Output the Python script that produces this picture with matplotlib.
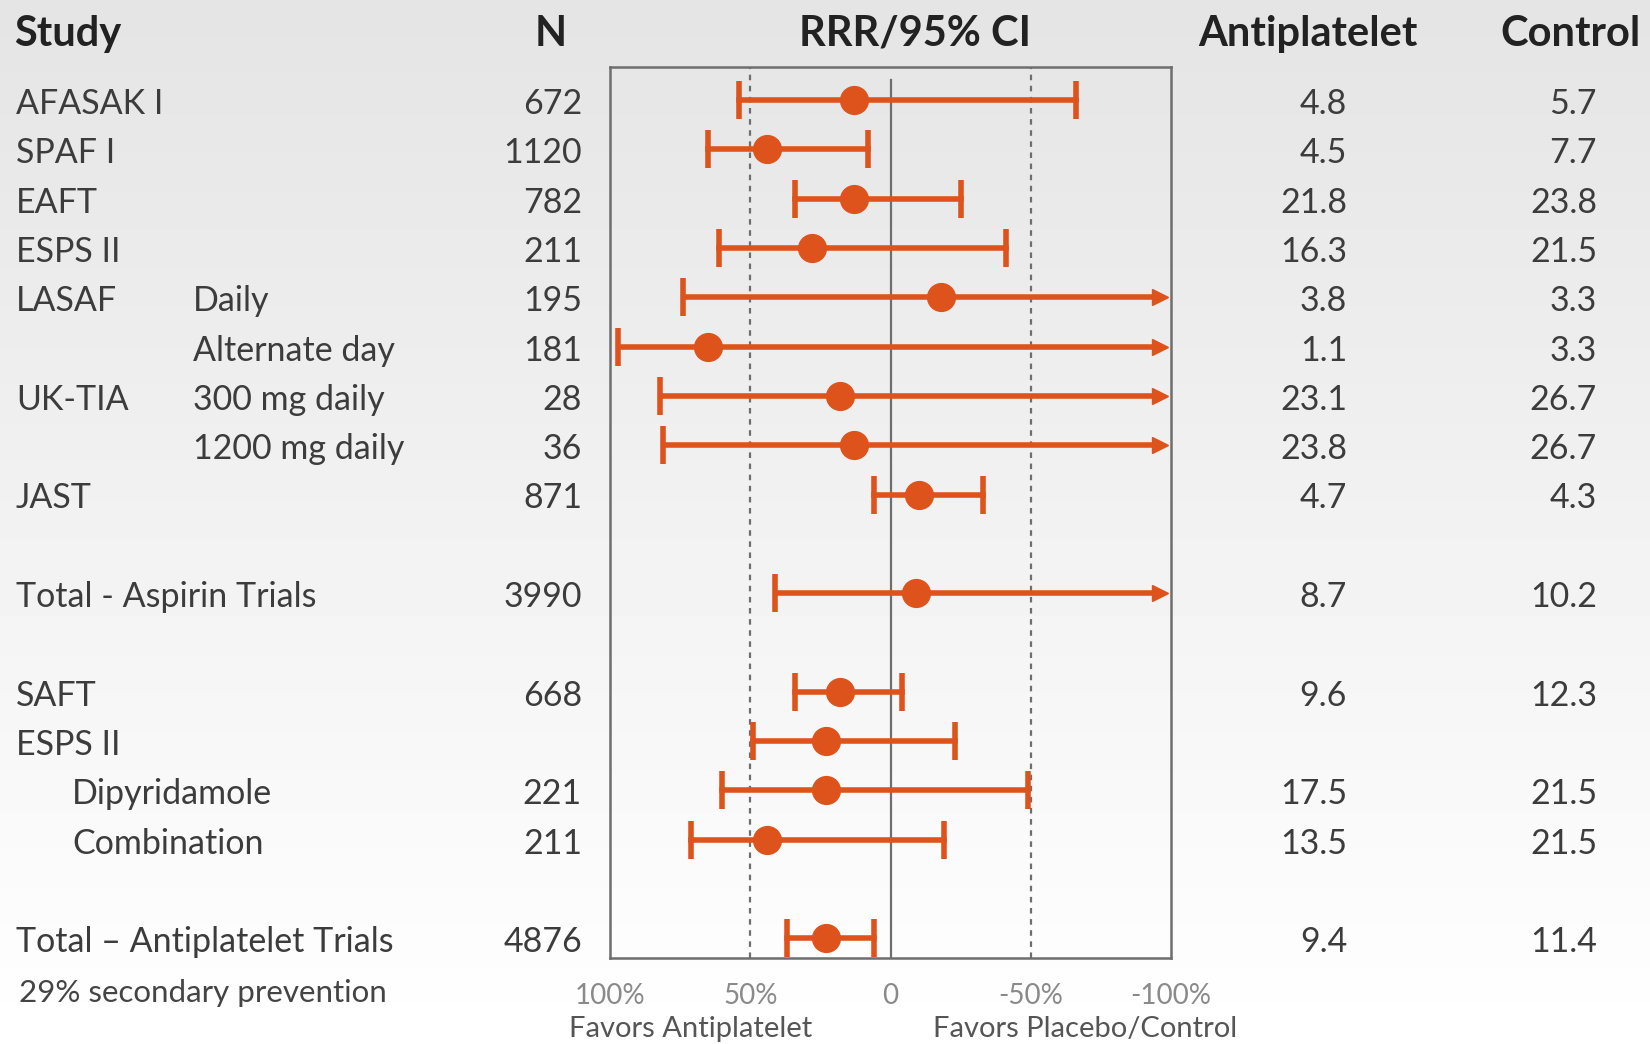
import numpy as np
import matplotlib
matplotlib.use("Agg")
import matplotlib.pyplot as plt
from matplotlib.transforms import blended_transform_factory

plt.rcParams['font.family'] = ['Lato', 'DejaVu Sans']

# filas (posicion vertical en "slots"; huecos en 9, 11 y 16)
filas = [0, 1, 2, 3, 4, 5, 6, 7, 8, 10, 12, 13, 14, 15, 17]
estudios = ['AFASAK I', 'SPAF I', 'EAFT', 'ESPS II', 'LASAF', '', 'UK-TIA', '', 'JAST',
            'Total - Aspirin Trials', 'SAFT', 'ESPS II', '', '', 'Total \u2013 Antiplatelet Trials']
subgrupos = ['', '', '', '', 'Daily', 'Alternate day', '300 mg daily', '1200 mg daily', '',
             '', '', '', '', '', '']
sangria = ['', '', '', '', '', '', '', '', '', '', '', '', 'Dipyridamole', 'Combination', '']
n_pacientes = ['672', '1120', '782', '211', '195', '181', '28', '36', '871',
               '3990', '668', '', '221', '211', '4876']
antiplaquetario = ['4.8', '4.5', '21.8', '16.3', '3.8', '1.1', '23.1', '23.8', '4.7',
                   '8.7', '9.6', '', '17.5', '13.5', '9.4']
control = ['5.7', '7.7', '23.8', '21.5', '3.3', '3.3', '26.7', '26.7', '4.3',
           '10.2', '12.3', '', '21.5', '21.5', '11.4']

# RRR (%) y IC 95%; nan en el limite superior = flecha fuera de escala
rrr = [13, 44, 13, 28, -18, 65, 18, 13, -10, -9, 18, 23, 23, 44, 23]
ic_bajo = [54, 65, 34, 61, 74, 97, 82, 81, 6, 41, 34, 49, 60, 71, 37]
ic_alto = [-66, 8, -25, -41, np.nan, np.nan, np.nan, np.nan, -33,
           np.nan, -4, -23, -49, -19, 6]

ticks_x = [100, 50, 0, -50, -100]
etiquetas_x = ['100%', '50%', '0', '-50%', '-100%']

naranja = '#de531c'
gris_txt = '#3c3c3c'

fig = plt.figure(figsize=(16.5, 10.44), dpi=100)

# fondo en degradado gris -> blanco
fondo = fig.add_axes([0, 0, 1, 1], zorder=-10)
grad = np.linspace(0.895, 1.0, 256).reshape(-1, 1)
fondo.imshow(grad, aspect='auto', cmap='gray', vmin=0, vmax=1, extent=[0, 1, 0, 1], origin='upper')
fondo.axis('off')

ax = fig.add_axes([610 / 1650, 1 - 958 / 1044, 561 / 1650, 891 / 1044])
ax.patch.set_alpha(0)
ax.set_xlim(100, -100)
ax.set_ylim(17.4, -0.67)
for s in ax.spines.values():
    s.set_color('#6e6e6e')
    s.set_linewidth(1.8)
ax.set_yticks([])
ax.set_xticks(ticks_x)
ax.set_xticklabels(etiquetas_x)
ax.tick_params(axis='x', length=0, pad=18, labelsize=20, labelcolor='#8a8a8a')

ax.axvline(0, color='#6e6e6e', lw=1.6, ymax=0.985, zorder=1)
for v in (50, -50):
    ax.axvline(v, color='#6e6e6e', lw=1.6, ls=(0, (2.5, 2.5)), zorder=1)

for y, p, lo, hi in zip(filas, rrr, ic_bajo, ic_alto):
    if np.isnan(hi):
        ax.plot([lo, -95], [y, y], color=naranja, lw=4, solid_capstyle='butt', zorder=3)
        ax.plot([-96], [y], marker='>', ms=12, color=naranja, mec=naranja, zorder=3)
        ax.plot([lo], [y], marker='|', ms=27, mew=4, color=naranja, zorder=3)
    else:
        ax.plot([lo, hi], [y, y], color=naranja, lw=4, zorder=3)
        ax.plot([lo, hi], [y, y], ls='none', marker='|', ms=27, mew=4, color=naranja, zorder=3)
    ax.plot([p], [y], marker='o', ms=20, color=naranja, mec=naranja, zorder=4)

# columnas de texto
tr = blended_transform_factory(fig.transFigure, ax.transData)
fs = 24.5
for i, y in enumerate(filas):
    yt = y + 0.08
    if estudios[i]:
        fig.text(16 / 1650, yt, estudios[i], transform=tr, va='center', fontsize=fs, color=gris_txt)
    if subgrupos[i]:
        fig.text(193 / 1650, yt, subgrupos[i], transform=tr, va='center', fontsize=fs, color=gris_txt)
    if sangria[i]:
        fig.text(72 / 1650, yt, sangria[i], transform=tr, va='center', fontsize=fs, color=gris_txt)
    fig.text(582 / 1650, yt, n_pacientes[i], transform=tr, va='center', ha='right', fontsize=fs, color=gris_txt)
    fig.text(1347 / 1650, yt, antiplaquetario[i], transform=tr, va='center', ha='right', fontsize=fs, color=gris_txt)
    fig.text(1597 / 1650, yt, control[i], transform=tr, va='center', ha='right', fontsize=fs, color=gris_txt)

# cabeceras
yc = 1 - 34 / 1044
hf = 30
fig.text(14 / 1650, yc, 'Study', fontsize=hf, fontweight='bold', va='center', color='#222222')
fig.text(551 / 1650, yc, 'N', fontsize=hf, fontweight='bold', va='center', ha='center', color='#222222')
fig.text(915 / 1650, yc, 'RRR/95% CI', fontsize=hf, fontweight='bold', va='center', ha='center', color='#222222')
fig.text(1308 / 1650, yc, 'Antiplatelet', fontsize=hf, fontweight='bold', va='center', ha='center', color='#222222')
fig.text(1570 / 1650, yc, 'Control', fontsize=hf, fontweight='bold', va='center', ha='center', color='#222222')

fig.text(19 / 1650, 1 - 993 / 1044, '29% secondary prevention', fontsize=22.5, va='center', color='#444444')
fig.text(691 / 1650, 1 - 1029 / 1044, 'Favors Antiplatelet', fontsize=21, va='center', ha='center', color='#555555')
fig.text(1085 / 1650, 1 - 1029 / 1044, 'Favors Placebo/Control', fontsize=21, va='center', ha='center', color='#555555')

fig.savefig('out.png', dpi=100)
